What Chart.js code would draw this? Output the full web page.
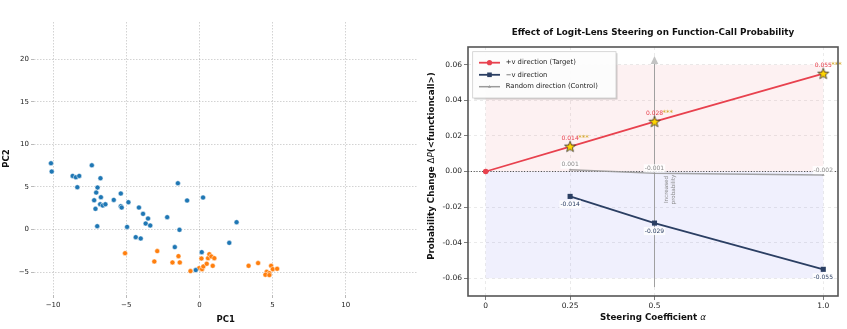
<!DOCTYPE html>
<html><head><meta charset="utf-8">
<script src="https://cdn.jsdelivr.net/npm/chart.js@4.4.1/dist/chart.umd.min.js"></script>
<style>
html,body{margin:0;padding:0;background:#fff;width:847px;height:329px;overflow:hidden}
canvas{position:absolute;top:0}
#c1{left:0}
#c2{left:422px}
</style></head><body>
<canvas id="c1" width="422" height="329"></canvas>
<canvas id="c2" width="425" height="329"></canvas>
<script>
// ---------------- Left: PCA scatter data ----------------
const blueX = [-10.14,-10.09,-8.66,-8.44,-8.21,-8.34,-7.35,-6.76,-6.96,-7.05,-7.19,-6.73,-7.10,-6.78,-6.60,-6.42,-6.98,-5.85,-5.37,-5.37,-5.31,-4.85,-4.94,-4.13,-3.85,-3.51,-3.67,-3.36,-4.35,-4.01,-2.20,-1.47,-0.84,0.25,-1.36,-1.68,0.16,-0.25,2.04,2.54];
const blueY = [7.79,6.81,6.30,6.14,6.30,4.97,7.55,6.03,4.93,4.34,3.44,3.80,2.43,2.97,2.82,2.97,0.39,3.48,4.23,2.74,2.58,3.21,0.31,2.58,1.84,1.29,0.70,0.47,-0.90,-1.06,1.45,5.44,3.41,3.76,-0.04,-2.07,-2.66,-4.77,-1.57,0.86];
const orangeX = [-5.08,-2.88,-3.08,-1.84,-1.43,-1.34,-0.61,-0.02,0.18,0.27,0.14,0.50,0.59,0.68,0.82,1.02,0.91,3.36,4.01,4.90,5.01,5.31,4.60,4.78,4.51,4.78];
const orangeY = [-2.78,-2.54,-3.76,-3.87,-3.13,-3.87,-4.89,-4.54,-4.66,-4.34,-3.41,-4.03,-3.37,-2.90,-3.17,-3.37,-4.27,-4.27,-3.95,-4.27,-4.66,-4.62,-4.97,-5.13,-5.32,-5.36];
const pcXTicks = [-10,-5,0,5,10];
const pcYTicks = [-5,0,5,10,15,20];
const pcXRange = [-11.3, 14.9];
const pcYRange = [-7.7, 24.4];

// ---------------- Right: steering data ----------------
const alphaPos = [0, 0.25, 0.5, 1.0];
const deltaPos = [0, 0.014, 0.028, 0.055];
const alphaNeg = [0.25, 0.5, 1.0];
const deltaNeg = [-0.014, -0.029, -0.055];
const alphaRand = [0.25, 0.5, 1.0];
const deltaRand = [0.001, -0.001, -0.002];
const sigAlpha = [0.25, 0.5, 1.0];
const sigDelta = [0.014, 0.028, 0.055];
const sigMark = ['***', '***', '***'];
const xTickVals = [0, 0.25, 0.5, 1.0];
const xTickLabels = ['0', '0.25', '0.5', '1.0'];
const yTickVals = [-0.06, -0.04, -0.02, 0, 0.02, 0.04, 0.06];
const shadeX = [0, 1.0];
const shadePos = [0, 0.06];
const shadeNeg = [0, -0.06];
const arrowX = 0.5;
const arrowY = [-0.065, 0.0605, 0.065];
const legendLabels = ['+v direction (Target)', '\u2212v direction', 'Random direction (Control)'];
const titleText = 'Effect of Logit-Lens Steering on Function-Call Probability';

const FONT = "'DejaVu Sans', sans-serif";
const RED = '#e8414e', NAVY = '#2b3f63', GRAY = '#9a9a9a', GOLD = '#FFD700';

const pts = (xs, ys) => xs.map((x, i) => ({x, y: ys[i]}));
const minus = v => (v < 0 ? '\u2212' + Math.abs(v) : '' + v);

// ---------------- Left chart ----------------
new Chart(document.getElementById('c1'), {
  type: 'scatter',
  data: { datasets: [
    { data: pts(blueX, blueY), backgroundColor: '#1f77b4', borderColor: '#ffffff', borderWidth: 0.5, pointRadius: 2.5 },
    { data: pts(orangeX, orangeY), backgroundColor: '#ff7f0e', borderColor: '#ffffff', borderWidth: 0.5, pointRadius: 2.5 }
  ]},
  options: {
    responsive: false, animation: false, devicePixelRatio: 1,
    layout: { padding: { top: 22, right: 3, left: 0, bottom: 0 } },
    plugins: { legend: { display: false }, tooltip: { enabled: false } },
    scales: {
      x: {
        type: 'linear', min: pcXRange[0], max: pcXRange[1],
        afterBuildTicks: s => { s.ticks = pcXTicks.map(v => ({value: v})); },
        afterFit: s => { s.height = 34; },
        border: { display: false, dash: [1.5, 1.5] },
        grid: { color: 'rgba(0,0,0,0.22)', lineWidth: 0.8, tickLength: 3, tickColor: 'rgba(0,0,0,0.35)' },
        ticks: { font: { family: FONT, size: 7 }, color: '#222', padding: 3, maxRotation: 0, callback: v => minus(v) },
        title: { display: true, text: 'PC1', font: { family: FONT, size: 8.5, weight: 'bold' }, color: '#111', padding: { top: 0, bottom: 4 } }
      },
      y: {
        type: 'linear', min: pcYRange[0], max: pcYRange[1],
        afterBuildTicks: s => { s.ticks = pcYTicks.map(v => ({value: v})); },
        afterFit: s => { s.width = 34; },
        border: { display: false, dash: [1.5, 1.5] },
        grid: { color: 'rgba(0,0,0,0.22)', lineWidth: 0.8, tickLength: 3, tickColor: 'rgba(0,0,0,0.35)' },
        ticks: { font: { family: FONT, size: 7 }, color: '#222', padding: 2, callback: v => minus(v) },
        title: { display: true, text: 'PC2', font: { family: FONT, size: 8.5, weight: 'bold' }, color: '#111', padding: { top: 2, bottom: 0 } }
      }
    }
  }
});

// ---------------- Star marker image ----------------
function makeStar() {
  const c = document.createElement('canvas');
  c.width = 14; c.height = 14;
  const g = c.getContext('2d');
  const cx = 7, cy = 7.3, R = 5.8, r = 2.4;
  g.beginPath();
  for (let i = 0; i < 10; i++) {
    const ang = -Math.PI / 2 + i * Math.PI / 5;
    const rad = i % 2 === 0 ? R : r;
    const px = cx + rad * Math.cos(ang), py = cy + rad * Math.sin(ang);
    i === 0 ? g.moveTo(px, py) : g.lineTo(px, py);
  }
  g.closePath();
  g.fillStyle = GOLD; g.fill();
  g.strokeStyle = '#333'; g.lineWidth = 0.8; g.stroke();
  return c;
}
const starImg = makeStar();

// ---------------- Right chart plugins ----------------
function labelBox(ctx, text, x, y, color, bg) {
  const w = ctx.measureText(text).width;
  if (bg) {
    ctx.fillStyle = 'rgba(255,255,255,0.85)';
    ctx.fillRect(x - w / 2 - 1, y - 4, w + 2, 8);
  }
  ctx.fillStyle = color;
  ctx.fillText(text, x, y);
}

const decor = {
  id: 'decor',
  beforeDatasetsDraw(chart) {
    const {ctx, chartArea: a, scales: {x, y}} = chart;
    ctx.save();
    const x0 = x.getPixelForValue(shadeX[0]), x1 = x.getPixelForValue(shadeX[1]);
    ctx.fillStyle = 'rgba(232,65,78,0.075)';
    ctx.fillRect(x0, y.getPixelForValue(shadePos[1]), x1 - x0, y.getPixelForValue(shadePos[0]) - y.getPixelForValue(shadePos[1]));
    ctx.fillStyle = 'rgba(70,70,230,0.08)';
    ctx.fillRect(x0, y.getPixelForValue(shadeNeg[0]), x1 - x0, y.getPixelForValue(shadeNeg[1]) - y.getPixelForValue(shadeNeg[0]));
    const yz = y.getPixelForValue(0);
    ctx.strokeStyle = '#555'; ctx.lineWidth = 1; ctx.setLineDash([1.2, 1.6]);
    ctx.beginPath(); ctx.moveTo(a.left, yz); ctx.lineTo(a.right, yz); ctx.stroke();
    ctx.setLineDash([]);
    const xa = x.getPixelForValue(arrowX);
    ctx.strokeStyle = '#a0a0a0'; ctx.lineWidth = 1;
    ctx.beginPath(); ctx.moveTo(xa, y.getPixelForValue(arrowY[0])); ctx.lineTo(xa, y.getPixelForValue(arrowY[1])); ctx.stroke();
    const yb = y.getPixelForValue(arrowY[1]), yt = y.getPixelForValue(arrowY[2]);
    ctx.fillStyle = '#c4c4c4';
    ctx.beginPath(); ctx.moveTo(xa, yt); ctx.lineTo(xa - 3.8, yb); ctx.lineTo(xa + 3.8, yb); ctx.closePath(); ctx.fill();
    ctx.save();
    ctx.translate(xa + 9.5, yz + 18);
    ctx.rotate(-Math.PI / 2);
    ctx.font = "5.6px " + FONT; ctx.fillStyle = '#888';
    ctx.textAlign = 'center'; ctx.textBaseline = 'top';
    ctx.fillText('Increased', 0, 0);
    ctx.fillText('probability', 0, 7);
    ctx.restore();
    ctx.restore();
  },
  afterDatasetsDraw(chart) {
    const {ctx, scales: {x, y}} = chart;
    ctx.save();
    ctx.textAlign = 'center'; ctx.textBaseline = 'middle';
    ctx.font = "6px " + FONT;
    alphaRand.forEach((a, i) => {
      labelBox(ctx, deltaRand[i].toFixed(3), x.getPixelForValue(a), y.getPixelForValue(deltaRand[i]) - 5, '#8a8a8a', true);
    });
    alphaNeg.forEach((a, i) => {
      labelBox(ctx, deltaNeg[i].toFixed(3), x.getPixelForValue(a), y.getPixelForValue(deltaNeg[i]) + 8, NAVY, true);
    });
    sigAlpha.forEach((a, i) => {
      const px = x.getPixelForValue(a), py = y.getPixelForValue(sigDelta[i]) - 8.5;
      ctx.font = "6px " + FONT;
      const t = sigDelta[i].toFixed(3);
      const w = ctx.measureText(t).width;
      ctx.fillStyle = RED; ctx.textAlign = 'center';
      ctx.fillText(t, px, py);
      ctx.font = "7px " + FONT; ctx.fillStyle = '#d4a520'; ctx.textAlign = 'left';
      ctx.fillText(sigMark[i], px + w / 2 - 0.5, py);
    });
    ctx.restore();
  },
  afterDraw(chart) {
    const {ctx, chartArea: a} = chart;
    ctx.save();
    ctx.strokeStyle = '#555'; ctx.lineWidth = 1.6;
    ctx.strokeRect(a.left, a.top, a.right - a.left, a.bottom - a.top);
    ctx.fillStyle = '#111'; ctx.textAlign = 'center'; ctx.textBaseline = 'middle';
    ctx.font = "bold 8.8px " + FONT;
    ctx.fillText(titleText, (a.left + a.right) / 2, 33);
    const xParts = [['Steering Coefficient ', 'bold 8.7px '], ['\u03b1', 'italic 8.7px ']];
    drawParts(ctx, xParts, (a.left + a.right) / 2, 318, 0);
    const yParts = [['Probability Change ', 'bold 8.7px '], ['\u0394', '8.7px '], ['P', 'italic 8.7px '], ['(<functioncall>)', 'bold 8.7px ']];
    drawParts(ctx, yParts, 10, 166, -Math.PI / 2);
    const lx = 50.7, ly = 51.7, lw = 143.3, lh = 46.3;
    ctx.fillStyle = 'rgba(0,0,0,0.18)';
    ctx.fillRect(lx + 1.5, ly + 1.5, lw, lh);
    ctx.fillStyle = 'rgba(255,255,255,0.95)';
    ctx.fillRect(lx, ly, lw, lh);
    ctx.strokeStyle = '#cccccc'; ctx.lineWidth = 0.8;
    ctx.strokeRect(lx, ly, lw, lh);
    const rows = [62.7, 74.8, 86.7];
    const cols = [RED, NAVY, GRAY];
    const styles = ['circle', 'rect', 'triangle'];
    rows.forEach((ry, i) => {
      ctx.strokeStyle = cols[i]; ctx.lineWidth = i === 2 ? 1.5 : 1.8;
      ctx.beginPath(); ctx.moveTo(57, ry); ctx.lineTo(78, ry); ctx.stroke();
      ctx.fillStyle = cols[i];
      if (styles[i] === 'circle') { ctx.beginPath(); ctx.arc(67.5, ry, 2.6, 0, Math.PI * 2); ctx.fill(); }
      else if (styles[i] === 'rect') { ctx.fillRect(65.2, ry - 2.3, 4.6, 4.6); }
      else { ctx.beginPath(); ctx.moveTo(67.5, ry - 1.6); ctx.lineTo(66, ry + 1); ctx.lineTo(69, ry + 1); ctx.closePath(); ctx.fill(); }
      ctx.fillStyle = '#222'; ctx.font = "6.8px " + FONT; ctx.textAlign = 'left'; ctx.textBaseline = 'middle';
      ctx.fillText(legendLabels[i], 83.7, ry);
    });
    ctx.restore();
  }
};

function drawParts(ctx, parts, cx, cy, rot) {
  ctx.save();
  ctx.translate(cx, cy); ctx.rotate(rot);
  let total = 0;
  parts.forEach(p => { ctx.font = p[1] + FONT; total += ctx.measureText(p[0]).width; });
  let xx = -total / 2;
  ctx.textAlign = 'left'; ctx.textBaseline = 'middle'; ctx.fillStyle = '#111';
  parts.forEach(p => { ctx.font = p[1] + FONT; ctx.fillText(p[0], xx, 0); xx += ctx.measureText(p[0]).width; });
  ctx.restore();
}

new Chart(document.getElementById('c2'), {
  type: 'line',
  data: { datasets: [
    { data: pts(sigAlpha, sigDelta), showLine: false, pointStyle: starImg, pointRadius: 6, borderColor: 'rgba(0,0,0,0)', backgroundColor: GOLD },
    { data: pts(alphaPos, deltaPos), borderColor: RED, backgroundColor: RED, borderWidth: 1.8, pointRadius: 2.8, pointStyle: 'circle', pointBorderWidth: 0 },
    { data: pts(alphaNeg, deltaNeg), borderColor: NAVY, backgroundColor: NAVY, borderWidth: 1.8, pointRadius: 3.6, pointStyle: 'rect', pointBorderWidth: 0 },
    { data: pts(alphaRand, deltaRand), borderColor: 'rgba(150,150,150,0.85)', backgroundColor: GRAY, borderWidth: 1.4, pointRadius: 1.6, pointStyle: 'triangle', pointBorderWidth: 0 }
  ]},
  options: {
    responsive: false, animation: false, devicePixelRatio: 1,
    layout: { padding: { top: 47, right: 9, left: 0, bottom: 0 } },
    plugins: { legend: { display: false }, tooltip: { enabled: false } },
    scales: {
      x: {
        type: 'linear', min: -0.0525, max: 1.0436,
        afterBuildTicks: s => { s.ticks = xTickVals.map(v => ({value: v})); },
        afterFit: s => { s.height = 33; },
        border: { display: false, dash: [3, 3] },
        grid: { color: 'rgba(0,0,0,0.12)', lineWidth: 0.7, tickLength: 4, tickColor: '#444' },
        ticks: { font: { family: FONT, size: 7.5 }, color: '#222', padding: 2, maxRotation: 0,
                 callback: v => { const k = xTickVals.indexOf(v); return k >= 0 ? xTickLabels[k] : ''; } },
        title: { display: false }
      },
      y: {
        type: 'linear', min: -0.07, max: 0.07,
        afterBuildTicks: s => { s.ticks = yTickVals.map(v => ({value: v})); },
        afterFit: s => { s.width = 46; },
        border: { display: false, dash: [3, 3] },
        grid: { color: 'rgba(0,0,0,0.12)', lineWidth: 0.7, tickLength: 4, tickColor: '#444' },
        ticks: { font: { family: FONT, size: 7.5 }, color: '#222', padding: 2, callback: v => v.toFixed(2) },
        title: { display: false }
      }
    }
  },
  plugins: [decor]
});
</script>
</body></html>
